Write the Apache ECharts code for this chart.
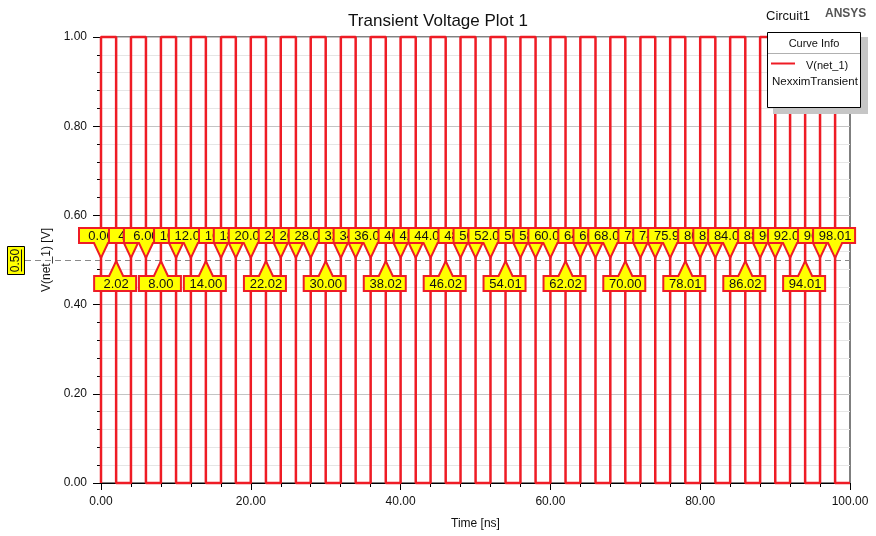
<!DOCTYPE html>
<html><head><meta charset="utf-8">
<script src="https://cdn.jsdelivr.net/npm/echarts@6/dist/echarts.min.js"></script>
<style>html,body{margin:0;padding:0;background:#fff}#c{width:876px;height:536px}</style>
</head><body><div id="c"></div>
<script>
// ---- data ----
const startLevel = 0;          // waveform level before the first edge
const endTime = 100;           // end of the simulated window [ns]
// time of each 0.5 V crossing / edge [ns]
const edgeTimes = [0.00, 2.02, 4.00, 6.00, 8.00, 10.02, 12.00, 14.00, 16.02, 18.00,
                   20.00, 22.02, 24.00, 26.02, 28.00, 30.00, 32.02, 34.00, 36.00, 38.02,
                   40.00, 42.02, 44.00, 46.02, 48.00, 50.01, 52.00, 54.01, 56.00, 58.02,
                   60.00, 62.02, 64.00, 66.02, 68.00, 70.00, 72.02, 74.00, 75.99, 78.01,
                   80.00, 82.02, 84.00, 86.02, 88.00, 90.02, 92.00, 94.01, 96.00, 98.01];
// level after each edge [V]
const edgeLevels = [1, 0, 1, 0, 1, 0, 1, 0, 1, 0,
                    1, 0, 1, 0, 1, 0, 1, 0, 1, 0,
                    1, 0, 1, 0, 1, 0, 1, 0, 1, 0,
                    1, 0, 1, 0, 1, 0, 1, 0, 1, 0,
                    1, 0, 1, 0, 1, 0, 1, 0, 1, 0];
// where the crossing callout sits
const labelRow = ['top','bottom','top','top','bottom','top','top','bottom','top','top',
                  'top','bottom','top','top','top','bottom','top','top','top','bottom',
                  'top','top','top','bottom','top','top','top','bottom','top','top',
                  'top','bottom','top','top','top','bottom','top','top','top','bottom',
                  'top','top','top','bottom','top','top','top','bottom','top','top'];
const cursorValue = 0.5;        // horizontal marker [V]
const seriesName = 'V(net_1)';

// ---- build ----
const FONT = '"Liberation Sans", Arial, sans-serif';
const RED = '#ee1c25';
const waveData = [[0, startLevel]];
edgeTimes.forEach((t, i) => waveData.push([t, edgeLevels[i]]));
waveData.push([endTime, edgeLevels[edgeLevels.length - 1]]);

const chart = echarts.init(document.getElementById('c'), null, {renderer: 'canvas'});
chart.setOption({
  animation: false,
  backgroundColor: '#fff',
  title: {
    text: 'Transient Voltage Plot 1', left: 'center', top: 8,
    textStyle: {fontSize: 17, fontWeight: 'normal', color: '#111', fontFamily: FONT}
  },
  grid: {left: 101, right: 26, top: 37, bottom: 53, show: true, borderColor: '#000', borderWidth: 1, backgroundColor: 'transparent'},
  xAxis: {
    type: 'value', min: 0, max: 100, interval: 20,
    name: 'Time [ns]', nameLocation: 'middle', nameGap: 35,
    nameTextStyle: {fontSize: 12, color: '#111', fontFamily: FONT},
    axisLine: {lineStyle: {color: '#000'}},
    axisTick: {length: 7, lineStyle: {color: '#000'}},
    minorTick: {show: true, splitNumber: 5, length: 4, lineStyle: {color: '#000'}},
    axisLabel: {margin: 13, fontSize: 12, color: '#111', fontFamily: FONT, formatter: v => v.toFixed(2)},
    splitLine: {show: false}
  },
  yAxis: {
    type: 'value', min: 0, max: 1, interval: 0.2,
    name: 'V(net_1) [V]', nameLocation: 'middle', nameGap: 41,
    nameTextStyle: {fontSize: 12, color: '#111', fontFamily: FONT},
    axisLine: {show: true, lineStyle: {color: '#000'}},
    axisTick: {show: true, length: 8, lineStyle: {color: '#000'}},
    minorTick: {show: true, splitNumber: 5, length: 4, lineStyle: {color: '#000'}},
    axisLabel: {margin: 14, fontSize: 12, color: '#111', fontFamily: FONT, formatter: v => v.toFixed(2)},
    splitLine: {show: true, lineStyle: {color: '#c4c4c4'}},
    minorSplitLine: {show: true, lineStyle: {color: '#e6e6e6'}}
  },
  series: [
    {
      type: 'custom', name: 'cursor', z: 1, clip: false, silent: true,
      data: [[0, cursorValue]],
      encode: {x: 0, y: 1},
      renderItem(params, api) {
        const v = api.value(1);
        const p = api.coord([0, v]);
        const pr = api.coord([100, v]);
        const y = Math.round(p[1]) + 0.5;
        return {type: 'group', children: [
          {type: 'line', shape: {x1: 25, y1: y, x2: pr[0], y2: y},
           style: {stroke: '#8a8a8a', lineWidth: 1, lineDash: [6, 4]}},
          {type: 'rect', shape: {x: 7.5, y: y - 14, width: 17, height: 28},
           style: {fill: '#ffff00', stroke: '#000', lineWidth: 1}},
          {type: 'text', x: 16, y: y, rotation: Math.PI / 2,
           style: {text: v.toFixed(2), align: 'center', verticalAlign: 'middle', fill: '#111', font: '12px ' + FONT}},
          {type: 'line', shape: {x1: 21.5, y1: y - 11, x2: 21.5, y2: y + 11},
           style: {stroke: '#111', lineWidth: 1}}
        ]};
      }
    },
    {
      type: 'line', name: seriesName, z: 2, step: 'end', showSymbol: false, symbol: 'none',
      data: waveData,
      lineStyle: {color: RED, width: 2.5},
      clip: false
    },
    {
      type: 'custom', name: 'crossings', z: 3, clip: false, silent: true,
      data: edgeTimes.map(t => [t, cursorValue]),
      encode: {x: 0, y: 1},
      renderItem(params, api) {
        const t = api.value(0);
        const p = api.coord([t, api.value(1)]);
        const x = p[0], y = p[1];
        let pts, ty;
        if (labelRow[params.dataIndex] === 'top') {
          const tip = y - 2, base = y - 17, top = y - 32;
          pts = [[x - 22, top], [x + 20, top], [x + 20, base], [x + 7, base], [x, tip], [x - 7, base], [x - 22, base]];
          ty = (top + base) / 2 + 0.5;
        } else {
          const tip = y + 1, base = y + 16, bot = y + 31;
          pts = [[x, tip], [x + 7, base], [x + 20, base], [x + 20, bot], [x - 22, bot], [x - 22, base], [x - 7, base]];
          ty = (base + bot) / 2 + 0.5;
        }
        return {type: 'group', children: [
          {type: 'polygon', shape: {points: pts},
           style: {fill: '#ffff00', stroke: RED, lineWidth: 2, lineJoin: 'miter'}},
          {type: 'text', style: {text: t.toFixed(2), x: x, y: ty, align: 'center', verticalAlign: 'middle',
            fill: '#111', font: '13px ' + FONT}}
        ]};
      }
    }
  ],
  graphic: [
    {type: 'text', left: 766, top: 10, z: 100, style: {text: 'Circuit1', fill: '#111', font: '13px ' + FONT}},
    {type: 'text', left: 825, top: 8, z: 100, style: {text: 'ANSYS', fill: '#555', font: 'bold 12px ' + FONT}},
    {type: 'rect', z: 100, shape: {x: 773, y: 37, width: 95, height: 77}, style: {fill: '#c6c6c6'}},
    {type: 'rect', z: 101, shape: {x: 767.5, y: 32.5, width: 93, height: 75}, style: {fill: '#fff', stroke: '#000', lineWidth: 1}},
    {type: 'text', z: 102, x: 814, y: 44, style: {text: 'Curve Info', align: 'center', verticalAlign: 'middle', fill: '#111', font: '11px ' + FONT}},
    {type: 'line', z: 102, shape: {x1: 768, y1: 53.5, x2: 860, y2: 53.5}, style: {stroke: '#b0b0b0', lineWidth: 1}},
    {type: 'line', z: 102, shape: {x1: 771, y1: 63.5, x2: 795, y2: 63.5}, style: {stroke: RED, lineWidth: 2}},
    {type: 'text', z: 102, x: 806, y: 66, style: {text: seriesName, align: 'left', verticalAlign: 'middle', fill: '#111', font: '11px ' + FONT}},
    {type: 'text', z: 102, x: 772, y: 82, style: {text: 'NexximTransient', align: 'left', verticalAlign: 'middle', fill: '#111', font: '11.5px ' + FONT}}
  ]
});
</script></body></html>
